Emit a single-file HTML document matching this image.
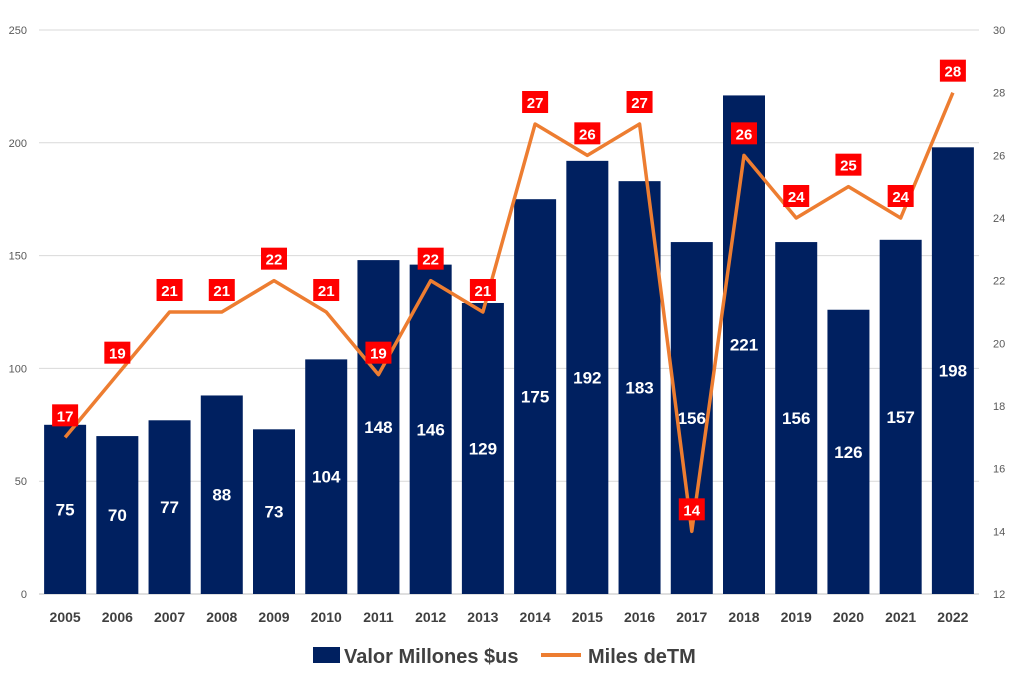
<!DOCTYPE html>
<html><head><meta charset="utf-8"><style>
body{margin:0;background:#fff;}
svg{display:block;font-family:"Liberation Sans",sans-serif;}
</style></head><body>
<svg id="c" width="1014" height="678"></svg>
<script>
const years=["2005","2006","2007","2008","2009","2010","2011","2012","2013","2014","2015","2016","2017","2018","2019","2020","2021","2022"];
const valor=[75,70,77,88,73,104,148,146,129,175,192,183,156,221,156,126,157,198];
const miles=[17,19,21,21,22,21,19,22,21,27,26,27,14,26,24,25,24,28];
const leftTicks=[0,50,100,150,200,250];
const rightTicks=[12,14,16,18,20,22,24,26,28,30];
const NS="http://www.w3.org/2000/svg",svg=document.getElementById('c');
const x0=39,x1=979,yB=594,yT=30,step=(x1-x0)/years.length;
const yL=v=>yB-(v/250)*(yB-yT);
const yR=v=>yB-((v-12)/18)*(yB-yT);
const xC=i=>x0+step*(i+0.5);
function mk(t,a,txt){const e=document.createElementNS(NS,t);for(const k in a)e.setAttribute(k,a[k]);if(txt!=null)e.textContent=txt;svg.appendChild(e);return e;}
leftTicks.forEach(v=>{
 const g=mk('line',{x1:x0,x2:x1,y1:yL(v),y2:yL(v),stroke:v?'#d9d9d9':'#bfbfbf','stroke-width':1});
 
 
 const t=mk('text',{x:27,y:yL(v)+4,'text-anchor':'end','font-size':11,fill:'#595959'},v);
 
 
});
rightTicks.forEach(v=>{
 const t=mk('text',{x:993,y:yR(v)+4,'font-size':11,fill:'#595959'},v);
 
 
});
years.forEach((y,i)=>{
 const b=mk('rect',{x:xC(i)-21,y:yL(valor[i]),width:42,height:yB-yL(valor[i]),fill:'#002060'});
 
 
 const l=mk('text',{x:xC(i),y:(yL(valor[i])+yB)/2+6,'text-anchor':'middle','font-size':17,'font-weight':'bold',fill:'#fff'},valor[i]);
 
 
 const xl=mk('text',{x:xC(i),y:622,'text-anchor':'middle','font-size':14,'font-weight':'bold',fill:'#404040'},y);
 
 
});
const pl=mk('polyline',{points:miles.map((v,i)=>xC(i)+','+yR(v)).join(' '),fill:'none',stroke:'#ed7d31','stroke-width':3.5,'stroke-linejoin':'round'});


miles.forEach((v,i)=>{
 const cy=yR(v)-22;
 const r=mk('rect',{x:xC(i)-13,y:cy-11,width:26,height:22,fill:'#ff0000'});
 
 
 const t=mk('text',{x:xC(i),y:cy+6,'text-anchor':'middle','font-size':15,'font-weight':'bold',fill:'#fff'},v);
 
 
});
const ls=mk('rect',{x:313,y:647,width:27,height:16,fill:'#002060'});


const lt=mk('text',{x:344,y:663,'font-size':20,'font-weight':'bold',fill:'#404040'},'Valor Millones $us');


const ll=mk('line',{x1:541,x2:581,y1:655,y2:655,stroke:'#ed7d31','stroke-width':4});


const lt2=mk('text',{x:588,y:663,'font-size':20,'font-weight':'bold',fill:'#404040'},'Miles deTM');


</script>
</body></html>
